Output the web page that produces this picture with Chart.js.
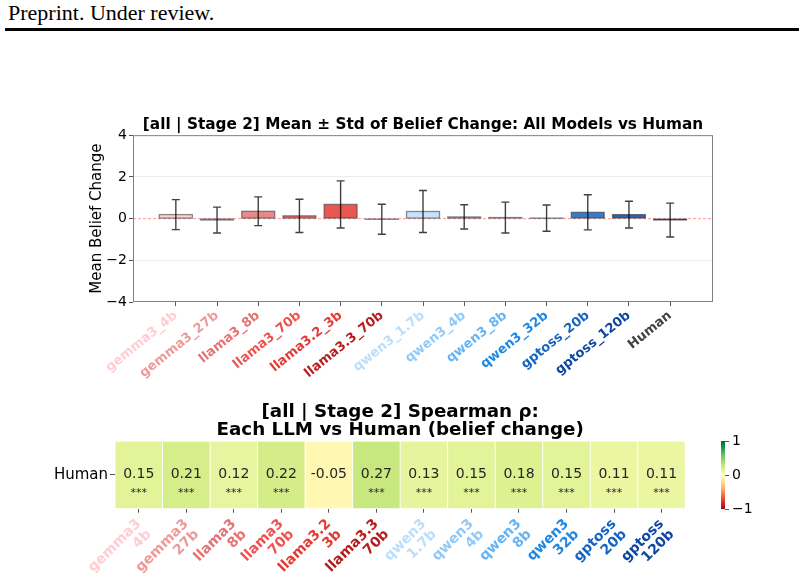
<!DOCTYPE html>
<html>
<head>
<meta charset="utf-8">
<script src="https://cdn.jsdelivr.net/npm/chart.js@4.4.1/dist/chart.umd.min.js"></script>
<style>
  body { margin: 0; background: #fff; }
  #page { position: relative; width: 804px; height: 586px; overflow: hidden; }
  #hdr { position: absolute; left: 8px; top: 0px; font-family: "Liberation Serif", serif; font-size: 22px; }
  #rule { position: absolute; left: 5px; top: 28px; width: 794px; height: 3px; background: #000; }
  canvas { position: absolute; }
</style>
</head>
<body>
<div id="page">
  <div id="hdr">Preprint. Under review.</div>
  <div id="rule"></div>
  <canvas id="bars" width="804" height="300" style="left:0;top:100px"></canvas>
  <canvas id="heat" width="804" height="196" style="left:0;top:390px"></canvas>
  <canvas id="cbar" width="114" height="110" style="left:690px;top:420px"></canvas>
</div>
<script>
// top chart: mean +- std of belief change
const models = ["gemma3_4b", "gemma3_27b", "llama3_8b", "llama3_70b", "llama3.2_3b", "llama3.3_70b",
  "qwen3_1.7b", "qwen3_4b", "qwen3_8b", "qwen3_32b", "gptoss_20b", "gptoss_120b", "Human"];
const modelColors = ["#ffcdd2", "#ef9a9a", "#e57373", "#ef5350", "#e53935", "#b71c1c",
  "#bbdefb", "#90caf9", "#64b5f6", "#1e88e5", "#1565c0", "#0d47a1", "#424242"];
const meanChange = [0.19, -0.07, 0.35, 0.13, 0.68, -0.03, 0.34, 0.08, 0.05, 0.02, 0.30, 0.19, -0.07];
const stdChange = [0.72, 0.62, 0.69, 0.80, 1.13, 0.72, 1.01, 0.58, 0.74, 0.63, 0.84, 0.64, 0.81];
const yTicks = [-4, -2, 0, 2, 4];

// heatmap: spearman rho of each LLM vs human
const heatLabels = [["gemma3", "4b"], ["gemma3", "27b"], ["llama3", "8b"], ["llama3", "70b"],
  ["llama3.2", "3b"], ["llama3.3", "70b"], ["qwen3", "1.7b"], ["qwen3", "4b"], ["qwen3", "8b"],
  ["qwen3", "32b"], ["gptoss", "20b"], ["gptoss", "120b"]];
const rho = [0.15, 0.21, 0.12, 0.22, -0.05, 0.27, 0.13, 0.15, 0.18, 0.15, 0.11, 0.11];
const sig = ["***", "***", "***", "***", "", "***", "***", "***", "***", "***", "***", "***"];
const rowLabels = ["Human"];
const cbarTicks = [-1, 0, 1];

const FONT = "DejaVu Sans";
const minus = (v) => String(v).replace("-", "\u2212");

// RdYlGn
const rdylgn = ["#a50026", "#d73027", "#f46d43", "#fdae61", "#fee08b", "#ffffbf",
  "#d9ef8b", "#a6d96a", "#66bd63", "#1a9850", "#006837"];
function hex(c) { return [1, 3, 5].map(i => parseInt(c.substr(i, 2), 16)); }
function cmap(v) {
  let t = (v + 1) / 2 * 10;
  let i = Math.min(9, Math.floor(t)), f = t - i;
  let a = hex(rdylgn[i]), b = hex(rdylgn[i + 1]);
  let c = a.map((x, k) => Math.round(x + (b[k] - x) * f));
  return "rgb(" + c.join(",") + ")";
}
function alpha(c, a) { let h = hex(c); return "rgba(" + h.join(",") + "," + a + ")"; }

const frame = {
  id: "frame",
  beforeDatasetsDraw(chart) {
    const { ctx, chartArea: a, scales } = chart;
    const y0 = scales.y.getPixelForValue(0);
    ctx.save();
    ctx.strokeStyle = "rgba(255,0,0,0.35)";
    ctx.lineWidth = 1.2;
    ctx.setLineDash([3, 2]);
    ctx.beginPath();
    ctx.moveTo(a.left, y0);
    ctx.lineTo(a.right, y0);
    ctx.stroke();
    ctx.restore();
  },
  afterDatasetsDraw(chart) {
    const { ctx, chartArea: a, scales } = chart;
    ctx.save();
    // bar edges, centred on the bar outline
    ctx.strokeStyle = "rgba(50,50,50,0.55)";
    ctx.lineWidth = 1.3;
    chart.getDatasetMeta(0).data.forEach((el) => {
      const top = Math.min(el.y, el.base);
      ctx.strokeRect(el.x - el.width / 2, top, el.width, Math.abs(el.base - el.y));
    });
    ctx.strokeStyle = "rgba(0,0,0,0.75)";
    ctx.lineWidth = 1.4;
    meanChange.forEach((m, i) => {
      const x = scales.x.getPixelForValue(i);
      const yt = scales.y.getPixelForValue(m + stdChange[i]);
      const yb = scales.y.getPixelForValue(m - stdChange[i]);
      ctx.beginPath();
      ctx.moveTo(x, yt); ctx.lineTo(x, yb);
      ctx.moveTo(x - 4, yt); ctx.lineTo(x + 4, yt);
      ctx.moveTo(x - 4, yb); ctx.lineTo(x + 4, yb);
      ctx.stroke();
    });
    ctx.strokeStyle = "#808080";
    ctx.lineWidth = 1;
    ctx.strokeRect(a.left + 0.5, a.top + 0.5, a.right - a.left - 1, a.bottom - a.top - 1);
    ctx.restore();
  }
};

new Chart(document.getElementById("bars"), {
  type: "bar",
  data: {
    datasets: [{
      data: meanChange.map((m, i) => ({ x: i, y: m })),
      backgroundColor: modelColors.map(c => alpha(c, 0.85)),
      borderWidth: 0,
      barPercentage: 0.8,
      categoryPercentage: 1.0,
    }],
  },
  plugins: [frame],
  options: {
    responsive: false,
    animation: false,
    layout: { padding: { left: 80, right: 91, top: 0, bottom: 0 } },
    plugins: {
      legend: { display: false },
      tooltip: { enabled: false },
      title: {
        display: true,
        fullSize: false,
        text: "[all | Stage 2] Mean \u00b1 Std of Belief Change: All Models vs Human",
        color: "#000",
        font: { family: FONT, size: 15.3, weight: "bold", lineHeight: 1.2 },
        padding: { top: 15.8, bottom: 1.0 },
      },
    },
    scales: {
      x: {
        type: "linear",
        min: -1.04,
        max: 13.04,
        offset: false,
        afterBuildTicks: (axis) => { axis.ticks = models.map((_, i) => ({ value: i })); },
        afterFit: (s) => { s.height = 98; },
        grid: { offset: false, drawOnChartArea: false, tickLength: 4, color: "#555" },
        border: { display: false },
        ticks: {
          autoSkip: false,
          minRotation: 39,
          maxRotation: 39,
          padding: 2,
          callback: (v) => models[v],
          color: (c) => modelColors[c.index],
          font: { family: FONT, size: 13, weight: "bold" },
        },
      },
      y: {
        min: -4,
        max: 4,
        afterBuildTicks: (axis) => { axis.ticks = yTicks.map(v => ({ value: v })); },
        afterFit: (s) => { s.width = 53; },
        border: { display: false },
        grid: {
          color: (c) => (Math.abs(c.tick.value) === 2 ? "rgba(0,0,0,0.08)" : "rgba(0,0,0,0)"),
          tickColor: "#555",
          tickLength: 4,
        },
        ticks: { color: "#000", padding: 2, callback: minus, font: { family: FONT, size: 14 } },
        title: {
          display: true,
          text: "Mean Belief Change",
          color: "#000",
          font: { family: FONT, size: 15 },
          padding: { top: 8, bottom: 0 },
        },
      },
    },
  },
});

const cellText = {
  id: "cellText",
  afterDatasetsDraw(chart) {
    const { ctx } = chart;
    const meta = chart.getDatasetMeta(0);
    ctx.save();
    ctx.fillStyle = "#262626";
    ctx.textAlign = "center";
    ctx.textBaseline = "middle";
    meta.data.forEach((el, i) => {
      const yc = (el.y + el.base) / 2;
      ctx.font = "14px '" + FONT + "'";
      ctx.fillText(rho[i].toFixed(2), el.x, yc - 1);
      ctx.font = "11px '" + FONT + "'";
      ctx.fillText(sig[i], el.x, yc + 18);
    });
    ctx.restore();
  }
};

new Chart(document.getElementById("heat"), {
  type: "bar",
  data: {
    labels: heatLabels,
    datasets: [{
      data: rho.map(() => [0, 1]),
      backgroundColor: rho.map(cmap),
      borderColor: "#fff",
      borderWidth: 0.8,
      borderSkipped: false,
      barPercentage: 1,
      categoryPercentage: 1,
    }],
  },
  plugins: [cellText],
  options: {
    responsive: false,
    animation: false,
    layout: { padding: { left: 0, right: 118.7, top: 0, bottom: 0 } },
    plugins: {
      legend: { display: false },
      tooltip: { enabled: false },
      title: {
        display: true,
        fullSize: false,
        text: ["[all | Stage 2] Spearman \u03c1:", "Each LLM vs Human (belief change)"],
        color: "#000",
        font: { family: FONT, size: 18.3, weight: "bold", lineHeight: 0.99 },
        padding: { top: 13.3, bottom: 1.6 },
      },
    },
    scales: {
      x: {
        afterFit: (s) => { s.height = 77.3; },
        grid: { offset: false, drawOnChartArea: false, tickLength: 4, color: "#555" },
        border: { display: false },
        ticks: {
          autoSkip: false,
          minRotation: 45,
          maxRotation: 45,
          padding: 4,
          color: (c) => modelColors[c.index],
          font: { family: FONT, size: 14, weight: "bold", lineHeight: 1.05 },
        },
      },
      y: { display: false, min: 0, max: 1 },
      row: {
        type: "category",
        position: "left",
        labels: rowLabels,
        offset: true,
        afterFit: (s) => { s.width = 115; },
        border: { display: false },
        grid: { offset: false, drawOnChartArea: false, tickLength: 5, color: "#555" },
        ticks: { color: "#000", padding: 2, font: { family: FONT, size: 15 } },
      },
    },
  },
});

new Chart(document.getElementById("cbar"), {
  type: "bar",
  data: {
    labels: [""],
    datasets: [{
      data: [[-1, 1]],
      backgroundColor: (c) => {
        const a = c.chart.chartArea;
        if (!a) return null;
        const g = c.chart.ctx.createLinearGradient(0, a.bottom, 0, a.top);
        rdylgn.forEach((col, i) => g.addColorStop(i / 10, col));
        return g;
      },
      borderWidth: 0,
      barPercentage: 1,
      categoryPercentage: 1,
    }],
  },
  options: {
    responsive: false,
    animation: false,
    layout: { padding: { left: 31, top: 21, bottom: 21, right: 0 } },
    plugins: { legend: { display: false }, tooltip: { enabled: false } },
    scales: {
      x: { display: false },
      y: {
        position: "right",
        min: -1,
        max: 1,
        afterBuildTicks: (axis) => { axis.ticks = cbarTicks.map(v => ({ value: v })); },
        afterFit: (s) => { s.width = 79; },
        border: { display: false },
        grid: { drawOnChartArea: false, tickLength: 4, color: "#555" },
        ticks: { color: "#000", padding: 3, callback: minus, font: { family: FONT, size: 14 } },
      },
    },
  },
});
</script>
</body>
</html>
